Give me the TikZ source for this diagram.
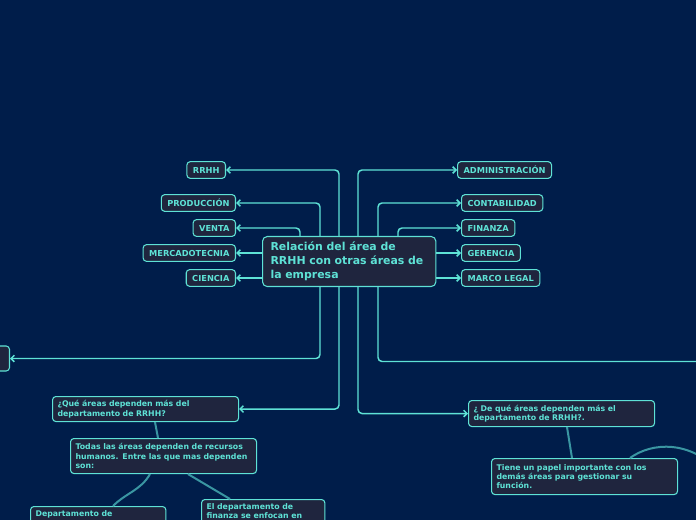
\documentclass[tikz,border=0pt]{standalone}
\usepackage{fontspec}
\setmainfont{DejaVu Sans}
\usetikzlibrary{arrows.meta,positioning}
\definecolor{fondo}{RGB}{0,29,74}
\definecolor{caja}{RGB}{31,37,62}
\definecolor{cian}{RGB}{94,226,214}
\definecolor{verdeazul}{RGB}{58,150,162}
\hyphenpenalty=10000

\begin{document}
\begin{tikzpicture}[x=0.75pt,y=-0.75pt,
  >={Straight Barb[length=2.5pt,width=5pt]},
  area/.style={draw=cian, fill=caja, text=cian, rounded corners=2.5pt,
    line width=0.8pt, inner xsep=4.5pt, inner ysep=0pt, minimum height=12.5pt,
    font=\fontsize{6.2}{7}\selectfont\bfseries},
  nota/.style={area, anchor=north west, align=left, inner xsep=3.75pt,
    font=\fontsize{5.85}{7}\selectfont\bfseries},
  enlace/.style={cian, line width=1.1pt, rounded corners=3pt, ->},
  rama/.style={verdeazul, line width=1.5pt}]

  % Background
  \fill[fondo] (0,0) rectangle (696,520);
  \clip (0,0) rectangle (696,520);

  % Central topic
  \node[area, anchor=north west, align=left, text width=118pt,
        minimum width=130pt, minimum height=37.5pt, inner xsep=6pt,
        rounded corners=3.5pt,
        font=\fontsize{8.2}{10.5}\selectfont\bfseries] (main) at (262,236)
        {Relación del área de\\RRHH con otras áreas de\\la empresa};

  % Left areas
  \node[area, anchor=east] (rrhh) at (226,170) {RRHH};
  \node[area, anchor=east] (prod) at (236,203) {PRODUCCIÓN};
  \node[area, anchor=east] (venta) at (236,228) {VENTA};
  \node[area, anchor=east] (merca) at (236,253) {MERCADOTECNIA};
  \node[area, anchor=east] (ciencia) at (236,278) {CIENCIA};

  % Right areas
  \node[area, anchor=west] (admin) at (457,170) {ADMINISTRACIÓN};
  \node[area, anchor=west] (conta) at (461,203) {CONTABILIDAD};
  \node[area, anchor=west] (finanza) at (461,228) {FINANZA};
  \node[area, anchor=west] (gerencia) at (461,253) {GERENCIA};
  \node[area, anchor=west] (marco) at (461,278) {MARCO LEGAL};

  % Questions and notes
  \node[area, anchor=east, minimum width=60pt, minimum height=18.75pt] (izq) at (10,358.5) {};
  \node[nota, text width=132pt, minimum height=18.75pt] (preg1) at (52,396)
        {¿Qué áreas dependen más del\\departamento de RRHH?};
  \node[nota, text width=132pt, minimum height=19.5pt] (preg2) at (468,400)
        {¿ De qué áreas dependen más el\\departamento de RRHH?.};
  \node[nota, text width=132pt, minimum height=26.25pt] (todas) at (70,438)
        {Todas las áreas dependen de recursos\\humanos. Entre las que mas dependen\\son:};
  \node[nota, text width=132pt, minimum height=27pt] (tiene) at (491,458)
        {Tiene un papel importante con los\\demás áreas para gestionar su\\función.};
  \node[nota, text width=94pt, inner ysep=3pt, text depth=20pt] (dept) at (30,506)
        {Departamento de};
  \node[nota, text width=85pt, inner ysep=3pt, text depth=20pt] (fin) at (201,499)
        {El departamento de\\finanza se enfocan en};

  \coordinate (borde) at (705,361.5);
  \coordinate (arco) at (720,472);

  % Connectors from the central topic
  \draw[enlace] (339,0 |- main.north) |- (rrhh.east);
  \draw[enlace] (320,0 |- main.north) |- (prod.east);
  \draw[enlace] (300,0 |- main.north) |- (venta.east);
  \draw[enlace] (main.west |- merca) -- (merca.east);
  \draw[enlace] (main.west |- ciencia) -- (ciencia.east);
  \draw[enlace] (358,0 |- main.north) |- (admin.west);
  \draw[enlace] (378,0 |- main.north) |- (conta.west);
  \draw[enlace] (398,0 |- main.north) |- (finanza.west);
  \draw[enlace] (main.east |- gerencia) -- (gerencia.west);
  \draw[enlace] (main.east |- marco) -- (marco.west);
  \draw[enlace] (320,0 |- main.south) |- (izq.east);
  \draw[enlace] (339,0 |- main.south) |- (preg1.east);
  \draw[enlace] (358,0 |- main.south) |- (preg2.west);
  \draw[enlace, -] (378,0 |- main.south) |- (borde);

  % Sub branches
  \draw[rama] (155,0 |- preg1.south) -- (158,0 |- todas.north);
  \draw[rama] (150,0 |- todas.south) to[out=-120, in=45] (113,0 |- dept.north);
  \draw[rama] (188,0 |- todas.south) -- (230,0 |- fin.north);
  \draw[rama] (567,0 |- preg2.south) -- (572,0 |- tiene.north);
  \draw[rama] (630,0 |- tiene.north) .. controls (652,442) and (690,440) .. (arco);
\end{tikzpicture}
\end{document}
